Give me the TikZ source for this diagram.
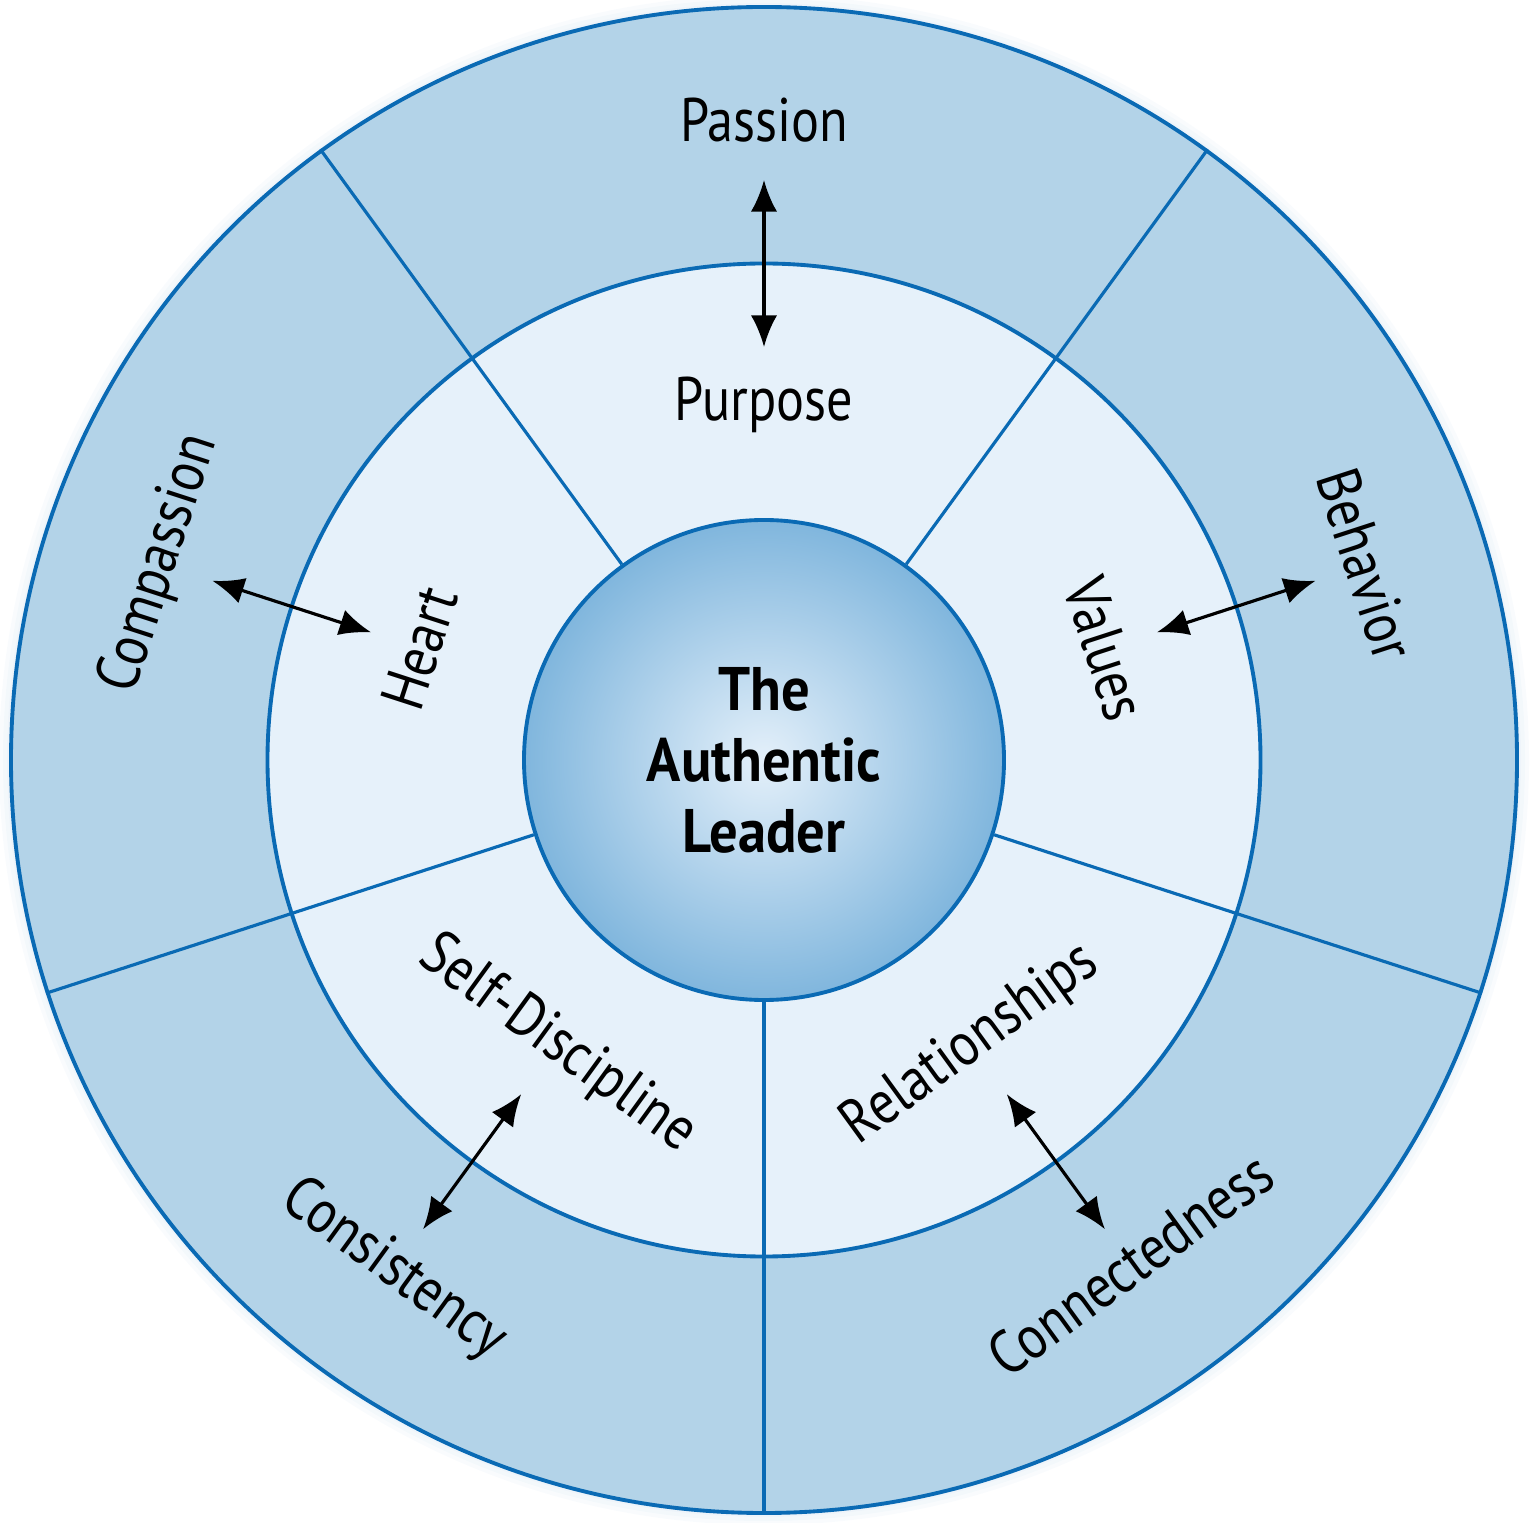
\documentclass[tikz,border=0pt]{standalone}
\usepackage{fontspec}
\setmainfont{PT Sans}[FakeStretch=0.85, BoldFeatures={FakeStretch=0.92}]
\usetikzlibrary{positioning,arrows.meta}
\definecolor{ringline}{HTML}{0A6AB4}
\definecolor{outerfill}{HTML}{B3D3E8}
\definecolor{midfill}{HTML}{E6F1FA}
\definecolor{coreedge}{HTML}{80B6DD}
\definecolor{corecentre}{HTML}{E4F0FA}
\tikzset{
  ring/.style={circle, draw=ringline, line width=1.1pt, inner sep=0pt},
  spoke/.style={draw=ringline, line width=0.9pt},
  both/.style={<->, line width=0.9pt, >={Latex[length=9pt,width=7.5pt]}},
  word/.style={font=\fontsize{17.5}{20}\selectfont, inner sep=0pt},
  glow/.style={fill=ringline, opacity=0.025},
}

\begin{document}
\begin{tikzpicture}
  \useasboundingbox (-7.64,-7.62) rectangle (7.70,7.60);
  % faint halo round the wheel
  \fill[glow] (0,0) circle (7.65);
  \fill[glow] (0,0) circle (7.61);
  \fill[glow] (0,0) circle (7.57);

  \node[ring, fill=outerfill, minimum size=15.06cm] (outer) at (0,0) {};
  \node[ring, fill=midfill, minimum size=9.93cm] (middle) at (0,0) {};
  \node[ring, inner color=corecentre, outer color=coreedge, minimum size=4.80cm,
        align=center, font=\fontsize{17.5}{20.2}\selectfont\bfseries] (core) at (0,0)
        {The\\Authentic\\Leader};

  \draw[spoke] (core.54) -- (outer.54);
  \draw[spoke] (core.126) -- (outer.126);
  \draw[spoke] (core.198) -- (outer.198);
  \draw[spoke] (core.270) -- (outer.270);
  \draw[spoke] (core.342) -- (outer.342);

  % inner ring
  \node[word] (purpose) at (90:3.55) {Purpose};
  \node[word, rotate=72] (heart) at (162:3.62) {Heart};
  \node[word, rotate=-72] (values) at (18:3.59) {Values};
  \node[word, rotate=-36] (selfdisc) at (234:3.52) {Self-Discipline};
  \node[word, rotate=36] (relations) at (306:3.52) {Relationships};

  % outer ring
  \node[word] (passion) at (90:6.40) {Passion};
  \node[word, rotate=72] (compassion) at (162:6.35) {Compassion};
  \node[word, rotate=-72] (behavior) at (18:6.33) {Behavior};
  \node[word, rotate=-36] (consistency) at (234:6.30) {Consistency};
  \node[word, rotate=36] (connected) at (306:6.23) {Connectedness};

  \coordinate (top in) at (90:4.13);
  \coordinate (top out) at (90:5.80);
  \coordinate (left in) at (162:4.13);
  \coordinate (left out) at (162:5.80);
  \coordinate (right in) at (18:4.13);
  \coordinate (right out) at (18:5.80);
  \coordinate (low left in) at (234:4.13);
  \coordinate (low left out) at (234:5.80);
  \coordinate (low right in) at (306:4.13);
  \coordinate (low right out) at (306:5.80);

  \draw[both] (top in) -- (top out);
  \draw[both] (left in) -- (left out);
  \draw[both] (right in) -- (right out);
  \draw[both] (low left in) -- (low left out);
  \draw[both] (low right in) -- (low right out);
\end{tikzpicture}
\end{document}
